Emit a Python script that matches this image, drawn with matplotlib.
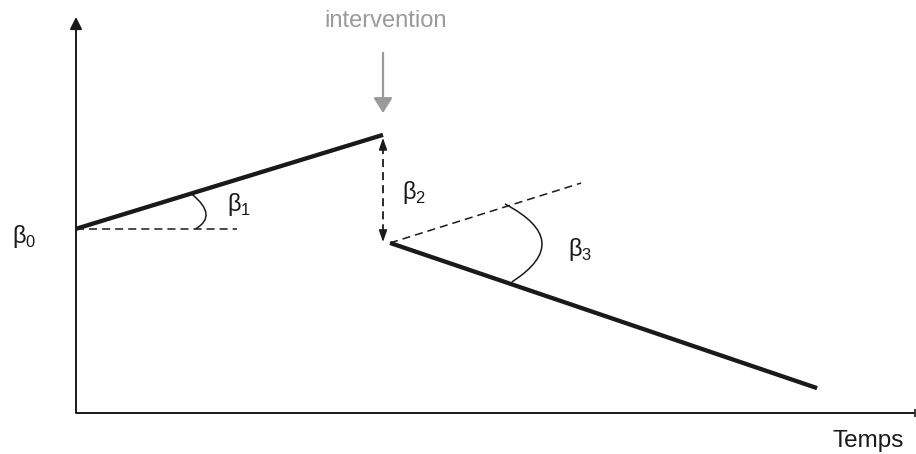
import numpy as np
import matplotlib
matplotlib.use("Agg")
import matplotlib.pyplot as plt
from matplotlib.path import Path
from matplotlib.patches import PathPatch

plt.rcParams['font.family'] = ['Liberation Sans', 'DejaVu Sans']
plt.rcParams['mathtext.fontset'] = 'custom'
plt.rcParams['mathtext.rm'] = 'Liberation Sans'
plt.rcParams['lines.scale_dashes'] = False

# segmented regression sketch (time units, outcome units)
t_intervention = 10.0
pre_t = [0.0, 10.0]
pre_y = [6.0, 9.06]
post_t = [10.23, 24.14]
post_y = [5.54, 0.81]
baseline_t = [0.0, 5.24]
baseline_y = [6.0, 6.0]
counter_t = [10.23, 16.45]
counter_y = [5.54, 7.49]
jump_y = [8.96, 5.57]           # beta2 level change
arrow_y = [11.73, 9.77]         # intervention arrow
y_axis_top = 12.9
x_axis_end = 27.33

# angle arcs (start, control, end)
arc1 = [(3.76, 7.14), (4.64, 6.43), (3.90, 6.0)]
arc3 = [(13.97, 6.81), (16.27, 5.60), (14.20, 4.27)]

labels = ["β$_0$", "β$_1$", "β$_2$", "β$_3$"]
label_xy = [(-2.075, 5.54), (4.91, 6.59), (10.62, 6.97), (16.03, 5.13)]

INK = '#1a1a1a'
GREY = '#9a9a9a'
DASH = (0, (5.8, 3.6))

fig = plt.figure(figsize=(9.16, 4.54), dpi=100)
ax = fig.add_axes([0, 0, 1, 1])
s = 30.7
ax.set_xlim(-76 / s, 840 / s)
ax.set_ylim(-41 / s, 413 / s)
ax.axis('off')

# axes
ax.annotate('', xy=(0, y_axis_top), xytext=(0, 0),
            arrowprops=dict(arrowstyle='-|>', mutation_scale=18, lw=1.4,
                            color=INK, shrinkA=0, shrinkB=0))
ax.plot([0, x_axis_end], [0, 0], color=INK, lw=1.4, solid_capstyle='butt')
ax.plot([x_axis_end], [0], marker='|', ms=6, mew=1.2, color=INK)

# segments
ax.plot(pre_t, pre_y, color=INK, lw=3.1, solid_capstyle='butt')
ax.plot(post_t, post_y, color=INK, lw=3.1, solid_capstyle='butt')
ax.plot(baseline_t, baseline_y, color=INK, lw=1.1, linestyle=DASH)
ax.plot(counter_t, counter_y, color=INK, lw=1.1, linestyle=DASH)

# beta2 double arrow
ax.plot([t_intervention] * 2, [jump_y[0] - 0.25, jump_y[1] + 0.25],
        color=INK, lw=1.3, linestyle=DASH)
for tip, base in [(jump_y[0], jump_y[0] - 0.33), (jump_y[1], jump_y[1] + 0.33)]:
    ax.annotate('', xy=(t_intervention, tip), xytext=(t_intervention, base),
                arrowprops=dict(arrowstyle='-|>,head_length=0.4,head_width=0.14',
                                mutation_scale=18, lw=1.0, color=INK,
                                shrinkA=0, shrinkB=0))

# intervention arrow
ax.annotate('', xy=(t_intervention, arrow_y[1]), xytext=(t_intervention, arrow_y[0]),
            arrowprops=dict(arrowstyle='-|>,head_length=0.4,head_width=0.25',
                            mutation_scale=23, lw=1.6, color=GREY,
                            shrinkA=0, shrinkB=0))
ax.text(t_intervention + 0.1, 12.57, 'intervention', color=GREY, fontsize=17,
        ha='center', va='baseline')

# angle arcs
for arc in (arc1, arc3):
    path = Path(arc, [Path.MOVETO, Path.CURVE3, Path.CURVE3])
    ax.add_patch(PathPatch(path, fill=False, edgecolor=INK, lw=1.1))

for lab, (x, y) in zip(labels, label_xy):
    ax.text(x, y, lab, fontsize=17, color=INK, ha='left', va='baseline')

ax.text(24.63, -1.11, 'Temps', fontsize=17.5, color=INK, ha='left', va='baseline')

fig.savefig('out.png', dpi=100)
